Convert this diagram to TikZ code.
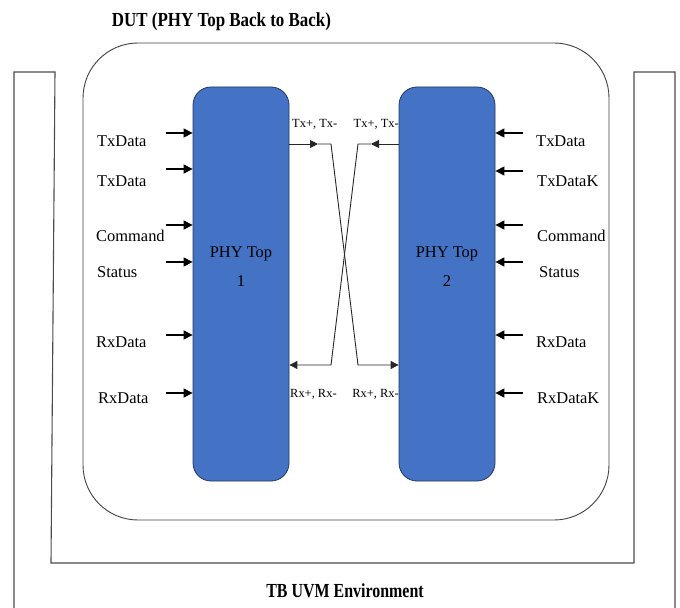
\documentclass[tikz,border=0pt]{standalone}
\usepackage{fontspec}
\setmainfont{Liberation Serif}
\usetikzlibrary{arrows.meta}
\definecolor{phyblue}{HTML}{4472C4}
\definecolor{phyedge}{HTML}{2F4F8A}
\begin{document}
\begin{tikzpicture}[x=1bp,y=-1bp,
  tbline/.style={draw=black!70, line width=1.1bp},
  dutbox/.style={draw=black!75, line width=0.9bp, rounded corners=55bp,
    minimum width=526bp, minimum height=477bp, inner sep=0pt},
  phybox/.style={draw=phyedge!70!black, line width=0.8bp, fill=phyblue,
    rounded corners=18bp, minimum width=96bp, minimum height=394bp, inner sep=0pt},
  phylabel/.style={align=center, inner sep=0pt, font=\fontsize{16.5}{29}\selectfont},
  siglabel/.style={inner sep=0pt, anchor=base west, font=\fontsize{16.5}{20}\selectfont},
  pinlabel/.style={inner sep=0pt, font=\fontsize{12.5}{15}\selectfont},
  titlelabel/.style={inner sep=0pt, anchor=base, font=\bfseries\fontsize{20}{24}\selectfont},
  inarrow/.style={draw=black, line width=1.2bp, -{Triangle[length=9bp,width=9bp]}},
  wire/.style={draw=black!85, line width=0.9bp, -{Triangle[length=8bp,width=8bp]}}
]
\useasboundingbox (0,0) rectangle (680,608);

% testbench environment outline (open at the bottom)
\draw[tbline] (14,612) -- (14,72) -- (55,72) -- (51,563) -- (634,563)
  -- (634,72) -- (675,72) -- (675,612);

% DUT container and the two PHY blocks
\node[dutbox] (dut) at (346,281.5) {};
\node[phybox] (phy1) at (241,284) {};
\node[phybox] (phy2) at (447,284) {};
\node[phylabel] (phy1t) at (241,267) {PHY Top\\1};
\node[phylabel] (phy2t) at (447,267) {PHY Top\\2};

% titles
\node[titlelabel] (duttitle) at (221.5,27) {\scalebox{0.85}[1]{DUT (PHY Top Back to Back)}};
\node[titlelabel] (tbtitle) at (345,597) {\scalebox{0.8}[1]{TB UVM Environment}};

% inputs of PHY Top 1
\foreach \id/\ya/\yb/\txt/\xl in {a/133/147/TxData/97, b/169/187/TxData/97,
    c/225/241/Command/96, d/262/277/Status/97, e/335/347/RxData/96, f/393/403/RxData/98} {
  \coordinate (inl\id) at (166,\ya);
  \draw[inarrow] (inl\id) -- (inl\id -| phy1.west);
  \node[siglabel] (labl\id) at (\xl,\yb) {\txt};
}

% inputs of PHY Top 2
\foreach \id/\ya/\yb/\txt/\xl in {a/133/147/TxData/536, b/171/187/TxDataK/537,
    c/225/241/Command/537, d/262/277/Status/539, e/335/347/RxData/536, f/393/403/RxDataK/537} {
  \coordinate (inr\id) at (523,\ya);
  \draw[inarrow] (inr\id) -- (inr\id -| phy2.east);
  \node[siglabel] (labr\id) at (\xl,\yb) {\txt};
}

% crossed serial links between the PHYs
\coordinate (ytx) at (0,144);
\coordinate (yrx) at (0,365);
\coordinate (m1) at (318,144);
\coordinate (k1) at (331,144);
\coordinate (k2) at (358,365);
\coordinate (m2) at (371,144);
\coordinate (k3) at (358,144);
\coordinate (k4) at (331,365);
\draw[wire] (phy1.east |- ytx) -- (m1);
\draw[wire] (m1) -- (k1) -- (k2) -- (phy2.west |- yrx);
\draw[wire] (phy2.west |- ytx) -- (m2);
\draw[wire] (m2) -- (k3) -- (k4) -- (phy1.east |- yrx);

% pin labels
\node[pinlabel, anchor=base west] (tx1l) at (292,128) {Tx+, Tx-};
\node[pinlabel, anchor=base east] (tx2l) at (399,128) {Tx+, Tx-};
\node[pinlabel, anchor=base west] (rx1l) at (290,397) {Rx+, Rx-};
\node[pinlabel, anchor=base east] (rx2l) at (399,397) {Rx+, Rx-};
\end{tikzpicture}
\end{document}
